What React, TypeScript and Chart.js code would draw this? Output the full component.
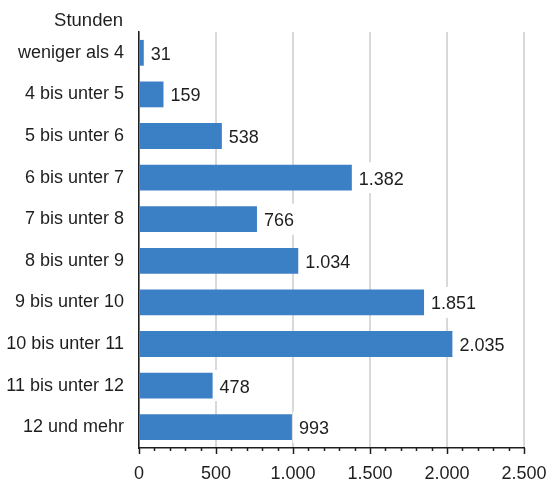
import React, { useEffect, useRef } from "react";
import { Chart, registerables } from "chart.js";

Chart.register(...registerables);

const categories = [
  "weniger als 4",
  "4 bis unter 5",
  "5 bis unter 6",
  "6 bis unter 7",
  "7 bis unter 8",
  "8 bis unter 9",
  "9 bis unter 10",
  "10 bis unter 11",
  "11 bis unter 12",
  "12 und mehr",
];
const values = [31, 159, 538, 1382, 766, 1034, 1851, 2035, 478, 993];
const axisTitle = "Stunden";
const xMax = 2500;
const majorStep = 500;
const minorStep = 100;

const FONT = "'Liberation Sans', Arial, Helvetica, sans-serif";
const TEXT = "#1e1e1e";
const BAR = "#3b7fc4";

function fmt(v: number): string {
  const s = Math.round(v).toString();
  return s.replace(/\B(?=(\d{3})+(?!\d))/g, ".");
}

const overlayPlugin = {
  id: "overlay",
  afterDatasetsDraw(chart: any) {
    const ctx = chart.ctx;
    const meta = chart.getDatasetMeta(0);
    ctx.save();
    ctx.font = `18px ${FONT}`;
    meta.data.forEach((bar: any, i: number) => {
      const label = fmt(values[i]);
      const w = ctx.measureText(label).width;
      const x0 = bar.x;
      const y = bar.y;
      ctx.fillStyle = "#ffffff";
      ctx.fillRect(x0 + 1, y - 15.5, w + 12, 31);
      ctx.fillStyle = TEXT;
      ctx.textAlign = "left";
      ctx.textBaseline = "middle";
      ctx.fillText(label, x0 + 7, y + 2);
    });
    ctx.restore();
  },
  afterDraw(chart: any) {
    const ctx = chart.ctx;
    const xs = chart.scales.x;
    const area = chart.chartArea;
    ctx.save();
    ctx.strokeStyle = TEXT;
    ctx.lineWidth = 1.5;
    for (let v = 0; v <= xMax; v += minorStep) {
      const px = Math.round(xs.getPixelForValue(v)) + 0.5;
      const len = v % majorStep === 0 ? 6 : 3;
      ctx.beginPath();
      ctx.moveTo(px, area.bottom);
      ctx.lineTo(px, area.bottom + len);
      ctx.stroke();
    }
    ctx.font = `18.5px ${FONT}`;
    ctx.fillStyle = TEXT;
    ctx.textAlign = "right";
    ctx.textBaseline = "alphabetic";
    ctx.fillText(axisTitle, 123, 26);
    ctx.restore();
  },
};

export default function App() {
  const ref = useRef<HTMLCanvasElement | null>(null);
  useEffect(() => {
    if (!ref.current) return;
    const chart = new Chart(ref.current, {
      type: "bar",
      data: {
        labels: categories,
        datasets: [
          {
            data: values,
            backgroundColor: BAR,
            borderWidth: 0,
            barPercentage: 0.62,
            categoryPercentage: 1,
          },
        ],
      },
      options: {
        indexAxis: "y",
        responsive: false,
        animation: false,
        devicePixelRatio: 1,
        layout: { padding: { top: 32, right: 31, left: 0, bottom: 0 } },
        plugins: {
          legend: { display: false },
          tooltip: { enabled: false },
        },
        scales: {
          x: {
            min: 0,
            max: xMax,
            afterFit: (s: any) => {
              s.height = 33;
              s.paddingLeft = 0;
              s.paddingRight = 0;
            },
            ticks: {
              stepSize: majorStep,
              padding: 15,
              color: TEXT,
              font: { family: FONT, size: 18 },
              callback: (v: any) => fmt(Number(v)),
              maxRotation: 0,
            },
            grid: {
              color: "#d9d9d9",
              lineWidth: 2,
              drawTicks: false,
            },
            border: { color: TEXT, width: 1.5 },
          },
          y: {
            afterFit: (s: any) => {
              s.width = 139;
              s.paddingTop = 0;
              s.paddingBottom = 0;
            },
            ticks: {
              padding: 15,
              color: TEXT,
              font: { family: FONT, size: 18 },
            },
            grid: { display: false, drawTicks: false },
            border: { color: TEXT, width: 1.5 },
          },
        },
      },
      plugins: [overlayPlugin],
    });
    return () => chart.destroy();
  }, []);
  return (
    <div style={{ position: "absolute", left: 0, top: 0, width: 555, height: 481, background: "#fff" }}>
      <canvas ref={ref} width={555} height={481} style={{ display: "block" }} />
    </div>
  );
}
